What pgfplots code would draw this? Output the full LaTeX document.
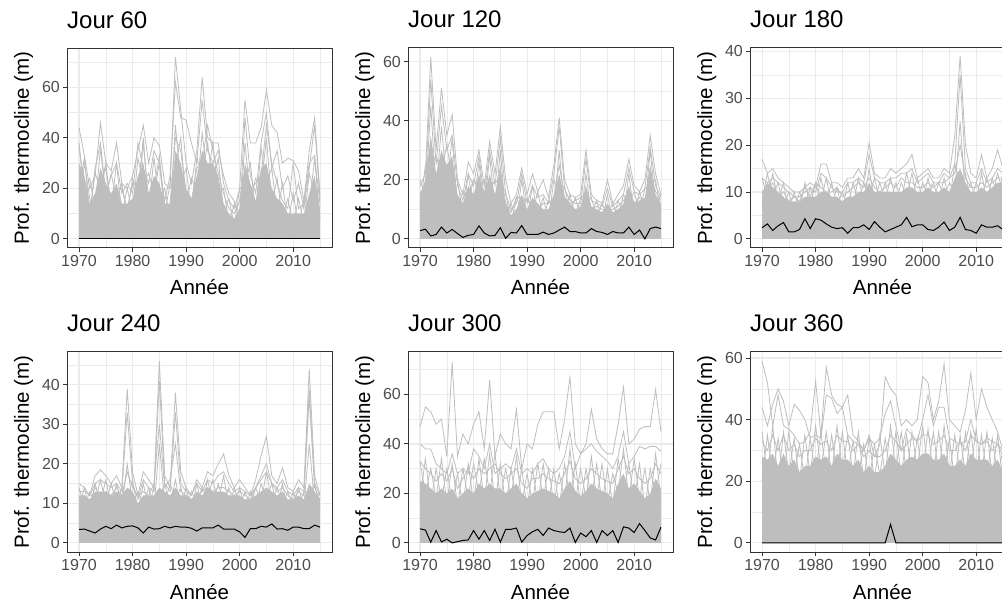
\documentclass[border=0pt]{standalone}
\usepackage{pgfplots}
\pgfplotsset{compat=1.18}
\usepackage{pgfplotstable}
\usepackage{fontspec}
\setmainfont{Liberation Sans}
\definecolor{lg}{HTML}{BEBEBE}
\definecolor{gridc}{HTML}{EBEBEB}
\definecolor{bord}{HTML}{333333}
\definecolor{tickc}{HTML}{4D4D4D}

% Jour 60
\pgfplotstableread{
yr band l1 l2 l3 l4 l5 blk
1970 30 44 36 12 38 20 0
1971 25 33 20 30 18 32 0
1972 14 20 10 16 24 10 0
1973 18 25 28 10 12 26 0
1974 28 46 38 22 36 20 0
1975 22 30 18 28 16 30 0
1976 18 27 25 12 26 12 0
1977 22 38 30 20 15 30 0
1978 14 22 18 20 22 10 0
1979 14 20 22 12 9 20 0
1980 16 25 18 22 24 10 0
1981 25 35 38 15 18 32 0
1982 30 45 28 38 40 22 0
1983 18 30 22 15 12 26 0
1984 25 40 35 20 32 18 0
1985 22 37 30 33 15 30 0
1986 14 22 15 12 20 10 0
1987 14 20 25 14 8 22 0
1988 35 72 62 40 45 28 0
1989 30 51 48 35 22 40 0
1990 20 30 47 18 28 14 0
1991 16 22 38 15 10 24 0
1992 25 35 30 28 32 18 0
1993 35 64 55 30 25 42 0
1994 30 40 35 45 38 24 0
1995 30 38 30 35 22 38 0
1996 25 38 35 26 32 18 0
1997 14 22 25 18 10 20 0
1998 10 15 18 12 16 6 0
1999 8 12 15 10 5 14 0
2000 12 20 10 15 20 8 0
2001 30 55 48 28 22 38 0
2002 22 38 25 20 30 16 0
2003 15 38 18 22 10 24 0
2004 28 44 38 25 36 20 0
2005 30 59 50 45 22 40 0
2006 20 45 28 30 28 14 0
2007 16 42 35 22 10 24 0
2008 14 30 20 15 22 8 0
2009 10 32 25 12 6 16 0
2010 10 31 15 30 18 6 0
2011 10 27 22 12 5 16 0
2012 10 15 12 14 16 6 0
2013 18 35 28 30 12 26 0
2014 25 48 45 33 32 18 0
2015 12 18 16 14 8 18 0
}\tA

% Jour 120
\pgfplotstableread{
yr band l1 l2 l3 l4 l5 blk
1970 15 18 12 16 20 10 2.8
1971 20 22 18 14 14 25 3.3
1972 35 61.5 54 30 45 25 1.0
1973 22 30 25 20 16 28 1.5
1974 30 51 45 28 38 22 4.0
1975 25 35 30 24 18 32 2.0
1976 28 42 35 25 34 20 3.2
1977 15 20 18 12 10 20 1.8
1978 12 15 13 10 16 8 0.5
1979 18 26 22 15 12 22 1.2
1980 15 22 18 20 20 10 1.5
1981 22 30 28 18 16 26 4.4
1982 15 18 14 16 20 10 2.0
1983 22 33 30 20 16 28 1.0
1984 15 22 18 14 20 10 1.2
1985 25 38 34 22 18 30 3.8
1986 12 20 15 12 16 8 0.2
1987 8 12 10 9 5 12 2.2
1988 10 15 12 14 14 6 2.0
1989 15 24 22 14 10 20 4.5
1990 10 15 12 13 14 7 1.5
1991 14 22 18 12 9 18 1.5
1992 12 16 14 10 16 8 1.5
1993 10 20 15 12 7 14 2.3
1994 10 14 12 12 13 6 1.5
1995 15 25 22 14 10 20 2.0
1996 22 41 38 25 30 16 3.0
1997 14 20 17 14 9 18 4.0
1998 12 15 13 12 15 8 2.5
1999 10 14 12 13 7 14 2.5
2000 11 15 12 14 14 7 2.0
2001 18 30 27 15 12 22 2.0
2002 11 15 13 10 14 8 3.5
2003 10 13 12 11 7 13 2.5
2004 9 12 11 10 12 6 2.2
2005 12 20 17 10 8 15 1.5
2006 9 12 11 10 12 6 2.5
2007 10 15 13 11 7 13 2.0
2008 12 18 15 13 15 8 2.0
2009 18 27 24 16 12 22 4.0
2010 12 18 16 12 16 8 1.5
2011 13 16 15 14 9 16 3.0
2012 14 20 17 12 17 10 0.0
2013 25 35 31 22 18 30 3.5
2014 15 22 18 16 20 11 4.0
2015 12 15 14 13 9 15 3.5
}\tB

% Jour 180
\pgfplotstableread{
yr band l1 l2 l3 l4 l5 blk
1970 10 17 13 9 13 8 2.4
1971 12 14 12 10 9 14 3.2
1972 11 15 13 12 14 9 1.8
1973 10 13 12 9 8 12 2.8
1974 9 12 11 10 12 7 3.5
1975 8 11 10 8 6 10 1.5
1976 8 10 9 9 10 6 1.5
1977 8 10 9 8 6 10 2.0
1978 9 11 10 11 12 7 4.3
1979 9 12 11 9 7 11 2.2
1980 9 11 10 12 12 7 4.3
1981 10 16 14 11 8 13 4.0
1982 10 16 13 10 13 8 3.2
1983 9 12 11 10 7 12 2.5
1984 9 12 10 11 11 7 2.2
1985 8 11 10 9 6 10 2.4
1986 9 13 12 10 12 7 1.2
1987 9 13 12 11 7 12 2.4
1988 10 15 13 12 13 8 2.4
1989 10 13 12 11 8 12 3.0
1990 12 20.5 18 13 15 9 2.0
1991 10 14 13 11 8 13 3.7
1992 10 13 12 10 12 8 2.5
1993 10 13 12 11 8 12 1.5
1994 10 15 13 12 13 8 2.0
1995 10 14 13 11 8 12 2.5
1996 10 15 14 13 12 8 3.0
1997 11 16 14 12 9 14 4.6
1998 11 18 15 12 14 9 2.6
1999 10 13 12 11 8 13 3.0
2000 10 14 13 11 12 8 3.0
2001 11 15 14 12 9 13 2.0
2002 10 13 12 11 12 8 1.8
2003 10 13 12 12 8 12 2.5
2004 11 15 14 12 13 9 3.6
2005 10 14 13 13 8 12 1.8
2006 13 22 16 14 16 10 2.5
2007 15 39 35 20 12 25 4.6
2008 12 20 15 13 14 9 2.0
2009 10 14 12 11 8 12 1.8
2010 10 13 12 11 12 8 1.2
2011 11 18 15 12 9 14 3.0
2012 10 13 12 11 13 8 2.5
2013 11 15 13 12 9 13 2.5
2014 12 19 15 13 14 9 2.8
2015 12 15 14 13 10 14 2.0
}\tC

% Jour 240
\pgfplotstableread{
yr band l1 l2 l3 l4 l5 blk
1970 12 15 13 11 14 9 3.4
1971 12 14 13 12 9 14 3.5
1972 11 12 12 10 13 8 3.0
1973 13 17 15 14 10 15 2.5
1974 13 18.5 16 12 16 10 3.5
1975 13 17 15 13 10 16 4.2
1976 12 15 14 12 15 9 3.6
1977 13 17 15 14 10 15 4.5
1978 12 14 13 12 14 9 3.8
1979 14 39 33 18 11 20 4.2
1980 13 18 15 14 16 10 4.3
1981 10 12 11 12 8 13 3.8
1982 12 18 16 13 15 9 2.5
1983 12 16 14 12 9 14 4.0
1984 12 14 13 15 14 9 3.5
1985 14 46 41 30 11 25 3.6
1986 13 17 15 14 15 10 4.2
1987 12 14 13 16 9 15 3.8
1988 14 38 33 25 16 11 4.2
1989 12 18 15 13 9 14 4.0
1990 12 14 13 12 14 9 4.0
1991 11 12 12 11 8 13 3.7
1992 13 16 15 12 15 10 3.0
1993 12 14 13 13 9 14 3.8
1994 14 18 16 14 16 11 3.8
1995 13 17 15 13 10 16 3.8
1996 13 20 17 14 15 10 4.5
1997 13 22.5 18 14 10 17 3.5
1998 12 17 15 13 14 9 3.5
1999 12 14 13 12 9 14 3.5
2000 12 16 14 13 14 9 2.8
2001 11 14 13 12 8 13 1.4
2002 11 12 12 11 13 9 3.6
2003 12 16 14 14 9 14 3.6
2004 13 22 17 16 15 10 4.2
2005 14 27 20 18 11 18 4.0
2006 13 17 15 15 15 10 4.8
2007 12 15 14 13 9 14 3.5
2008 13 19 16 14 15 10 3.6
2009 11 14 13 12 8 13 3.2
2010 11 13 12 11 13 9 4.0
2011 12 16 14 13 9 14 4.0
2012 11 14 13 12 13 9 3.6
2013 15 44 39 37 12 25 3.6
2014 13 17 15 14 15 10 4.5
2015 11 12 12 11 8 13 4.0
}\tD

% Jour 300
\pgfplotstableread{
yr band l1 l2 l3 l4 l5 blk
1970 25 47 40 33 33 18 5.7
1971 24 55 38 30 20 34 5.2
1972 22 53 38 28 30 16 0.3
1973 20 48 32 25 18 30 5.0
1974 22 50 30 28 34 17 0.4
1975 20 35 28 25 16 30 1.5
1976 22 73 36 30 32 16 0.0
1977 18 35 28 22 15 28 0.5
1978 20 44 30 26 30 15 1.0
1979 22 40 28 30 18 32 1.2
1980 20 48 38 26 32 16 5.0
1981 24 53 35 30 20 34 1.5
1982 22 38 30 28 34 17 5.0
1983 24 66 40 30 20 36 1.0
1984 22 35 28 32 36 16 5.5
1985 22 44 30 28 18 32 0.3
1986 20 40 32 26 30 15 5.5
1987 22 38 30 28 18 30 5.5
1988 24 54 38 30 35 17 6.0
1989 20 30 28 24 16 30 0.3
1990 18 40 30 22 28 14 3.0
1991 20 38 28 26 16 30 4.5
1992 21 48 32 26 32 16 5.5
1993 22 53 34 28 18 32 3.0
1994 21 53 30 26 30 16 6.0
1995 20 53 28 25 16 30 5.0
1996 18 38 30 24 28 14 4.5
1997 22 50 35 28 18 32 4.2
1998 25 67 45 33 38 18 6.0
1999 21 40 30 26 17 32 0.2
2000 19 36 36 24 30 15 4.0
2001 21 40 38 26 18 30 2.5
2002 24 54 40 30 35 18 5.0
2003 22 42 37 28 18 32 0.2
2004 21 38 35 26 32 16 5.0
2005 20 36 33 25 16 30 3.0
2006 18 36 30 24 28 15 5.0
2007 24 48 35 30 20 34 0.2
2008 28 63 45 35 38 20 6.5
2009 22 40 32 28 18 32 6.0
2010 24 42 35 30 34 17 4.2
2011 21 46 39 26 18 32 7.8
2012 18 47 38 24 30 14 5.0
2013 20 47 39 26 16 30 2.0
2014 26 62 39 32 36 20 1.2
2015 22 45 37 28 18 32 6.3
}\tE

% Jour 360
\pgfplotstableread{
yr band l1 l2 l3 l4 l5 blk
1970 28 59 44 33 36 20 0
1971 27 52 38 30 22 35 0
1972 29 38 45 35 38 22 0
1973 25 48 50 30 20 34 0
1974 29 38 46 35 36 20 0
1975 25 37 38 30 22 36 0
1976 27 35 45 32 34 22 0
1977 23 32 43 28 20 32 0
1978 25 33 40 30 35 20 0
1979 25 36 34 30 22 34 0
1980 28 52.5 35 34 38 22 0
1981 27 35 34 32 24 36 0
1982 28 57 48 33 36 22 0
1983 25 48 47 30 22 35 0
1984 29 45 42 35 38 22 0
1985 27 44 44 33 24 36 0
1986 27 48 35 33 35 22 0
1987 25 35 33 30 22 33 0
1988 27 33 32 32 36 22 0
1989 23 30 30 28 20 32 0
1990 25 35 34 30 34 20 0
1991 23 28 32 28 20 32 0
1992 23 32 34 28 35 22 0
1993 25 54 42 30 22 34 0
1994 29 50 46 35 38 22 6
1995 27 48 38 33 24 36 0
1996 25 38 30 30 36 22 0
1997 27 40 37 32 22 35 0
1998 28 38 35 34 36 22 0
1999 27 40 33 33 24 34 0
2000 29 54 40 35 38 22 0
2001 29 52 48 35 24 37 0
2002 27 40 38 32 36 22 0
2003 27 46 44 33 22 36 0
2004 29 58 44 35 38 22 0
2005 25 40 34 30 22 34 0
2006 25 38 33 30 35 20 0
2007 27 36 32 33 22 35 0
2008 25 43 33 30 36 22 0
2009 29 55 40 35 24 36 0
2010 27 40 33 33 37 22 0
2011 27 50 32 32 22 35 0
2012 27 44 34 33 36 22 0
2013 25 40 33 30 22 34 0
2014 27 36 32 32 35 22 0
2015 23 30 30 28 20 30 0
}\tF

\pgfplotsset{
  panel/.style={
    scale only axis, width=265pt, height=200pt, anchor=south west,
    xmin=1967.75, xmax=2017.25,
    xtick={1970,1980,1990,2000,2010},
    minor xtick={1975,1985,1995,2005,2015},
    grid=both,
    major grid style={gridc, line width=1.1pt},
    minor grid style={gridc, line width=0.55pt},
    axis line style={bord, line width=1pt},
    tick align=outside, tick pos=left,
    major tick length=4pt, minor tick length=0pt,
    tick style={bord, line width=1pt},
    /pgf/number format/assume math mode=true,
    x tick label style={font=\fontsize{16}{16}\selectfont, text=tickc, /pgf/number format/1000 sep={}, inner sep=0pt, anchor=north, yshift=-3pt},
    y tick label style={font=\fontsize{16}{16}\selectfont, text=tickc, inner sep=0pt, anchor=east, xshift=-3pt},
    title style={at={(axis description cs:0,1)}, anchor=base west, inner sep=0pt, yshift=14pt, font=\fontsize{24}{24}\selectfont},
    xlabel={Année},
    xlabel style={at={(axis description cs:0.5,0)}, anchor=base, inner sep=0pt, yshift=-47pt, font=\fontsize{20.5}{20.5}\selectfont},
    ylabel={Prof. thermocline (m)},
    ylabel style={at={(axis description cs:-0.1434,0.5)}, anchor=base, inner sep=0pt, font=\fontsize{20.5}{20.5}\selectfont},
  },
  band/.style={fill=lg, draw=none},
  gl/.style={lg, line width=0.8pt},
  bl/.style={black, line width=1pt},
}

\newcommand{\panelplots}[1]{%
  \addplot[band] table[x=yr,y=band]{#1} \closedcycle;
  \addplot[gl] table[x=yr,y=l5]{#1};
  \addplot[gl] table[x=yr,y=l4]{#1};
  \addplot[gl] table[x=yr,y=l3]{#1};
  \addplot[gl] table[x=yr,y=l2]{#1};
  \addplot[gl] table[x=yr,y=l1]{#1};
  \addplot[bl] table[x=yr,y=blk]{#1};
}

\begin{document}
\begin{tikzpicture}
\fill[white] (0,0) rectangle (1002pt,603pt);

\begin{axis}[panel, at={(67pt,355pt)}, ymin=-3.6, ymax=75.6,
  ytick={0,20,40,60}, minor ytick={10,30,50,70}, title={Jour 60}]
\panelplots{\tA}
\end{axis}

\begin{axis}[panel, at={(408pt,355pt)}, ymin=-3.075, ymax=64.575,
  ytick={0,20,40,60}, minor ytick={10,30,50}, title={Jour 120}]
\panelplots{\tB}
\end{axis}

\begin{axis}[panel, at={(750pt,355pt)}, ymin=-1.94, ymax=40.74,
  ytick={0,10,20,30,40}, minor ytick={5,15,25,35}, title={Jour 180}]
\panelplots{\tC}
\end{axis}

\begin{axis}[panel, at={(67pt,51pt)}, ymin=-2.3, ymax=48.3,
  ytick={0,10,20,30,40}, minor ytick={5,15,25,35,45}, title={Jour 240}]
\panelplots{\tD}
\end{axis}

\begin{axis}[panel, at={(408pt,51pt)}, ymin=-3.675, ymax=77.175,
  ytick={0,20,40,60}, minor ytick={10,30,50,70}, title={Jour 300}]
\panelplots{\tE}
\end{axis}

\begin{axis}[panel, at={(750pt,51pt)}, ymin=-2.95, ymax=61.95,
  ytick={0,20,40,60}, minor ytick={10,30,50}, title={Jour 360}]
\panelplots{\tF}
\end{axis}

\pgfresetboundingbox
\path[use as bounding box] (0,0) rectangle (1002pt,603pt);
\end{tikzpicture}
\end{document}
